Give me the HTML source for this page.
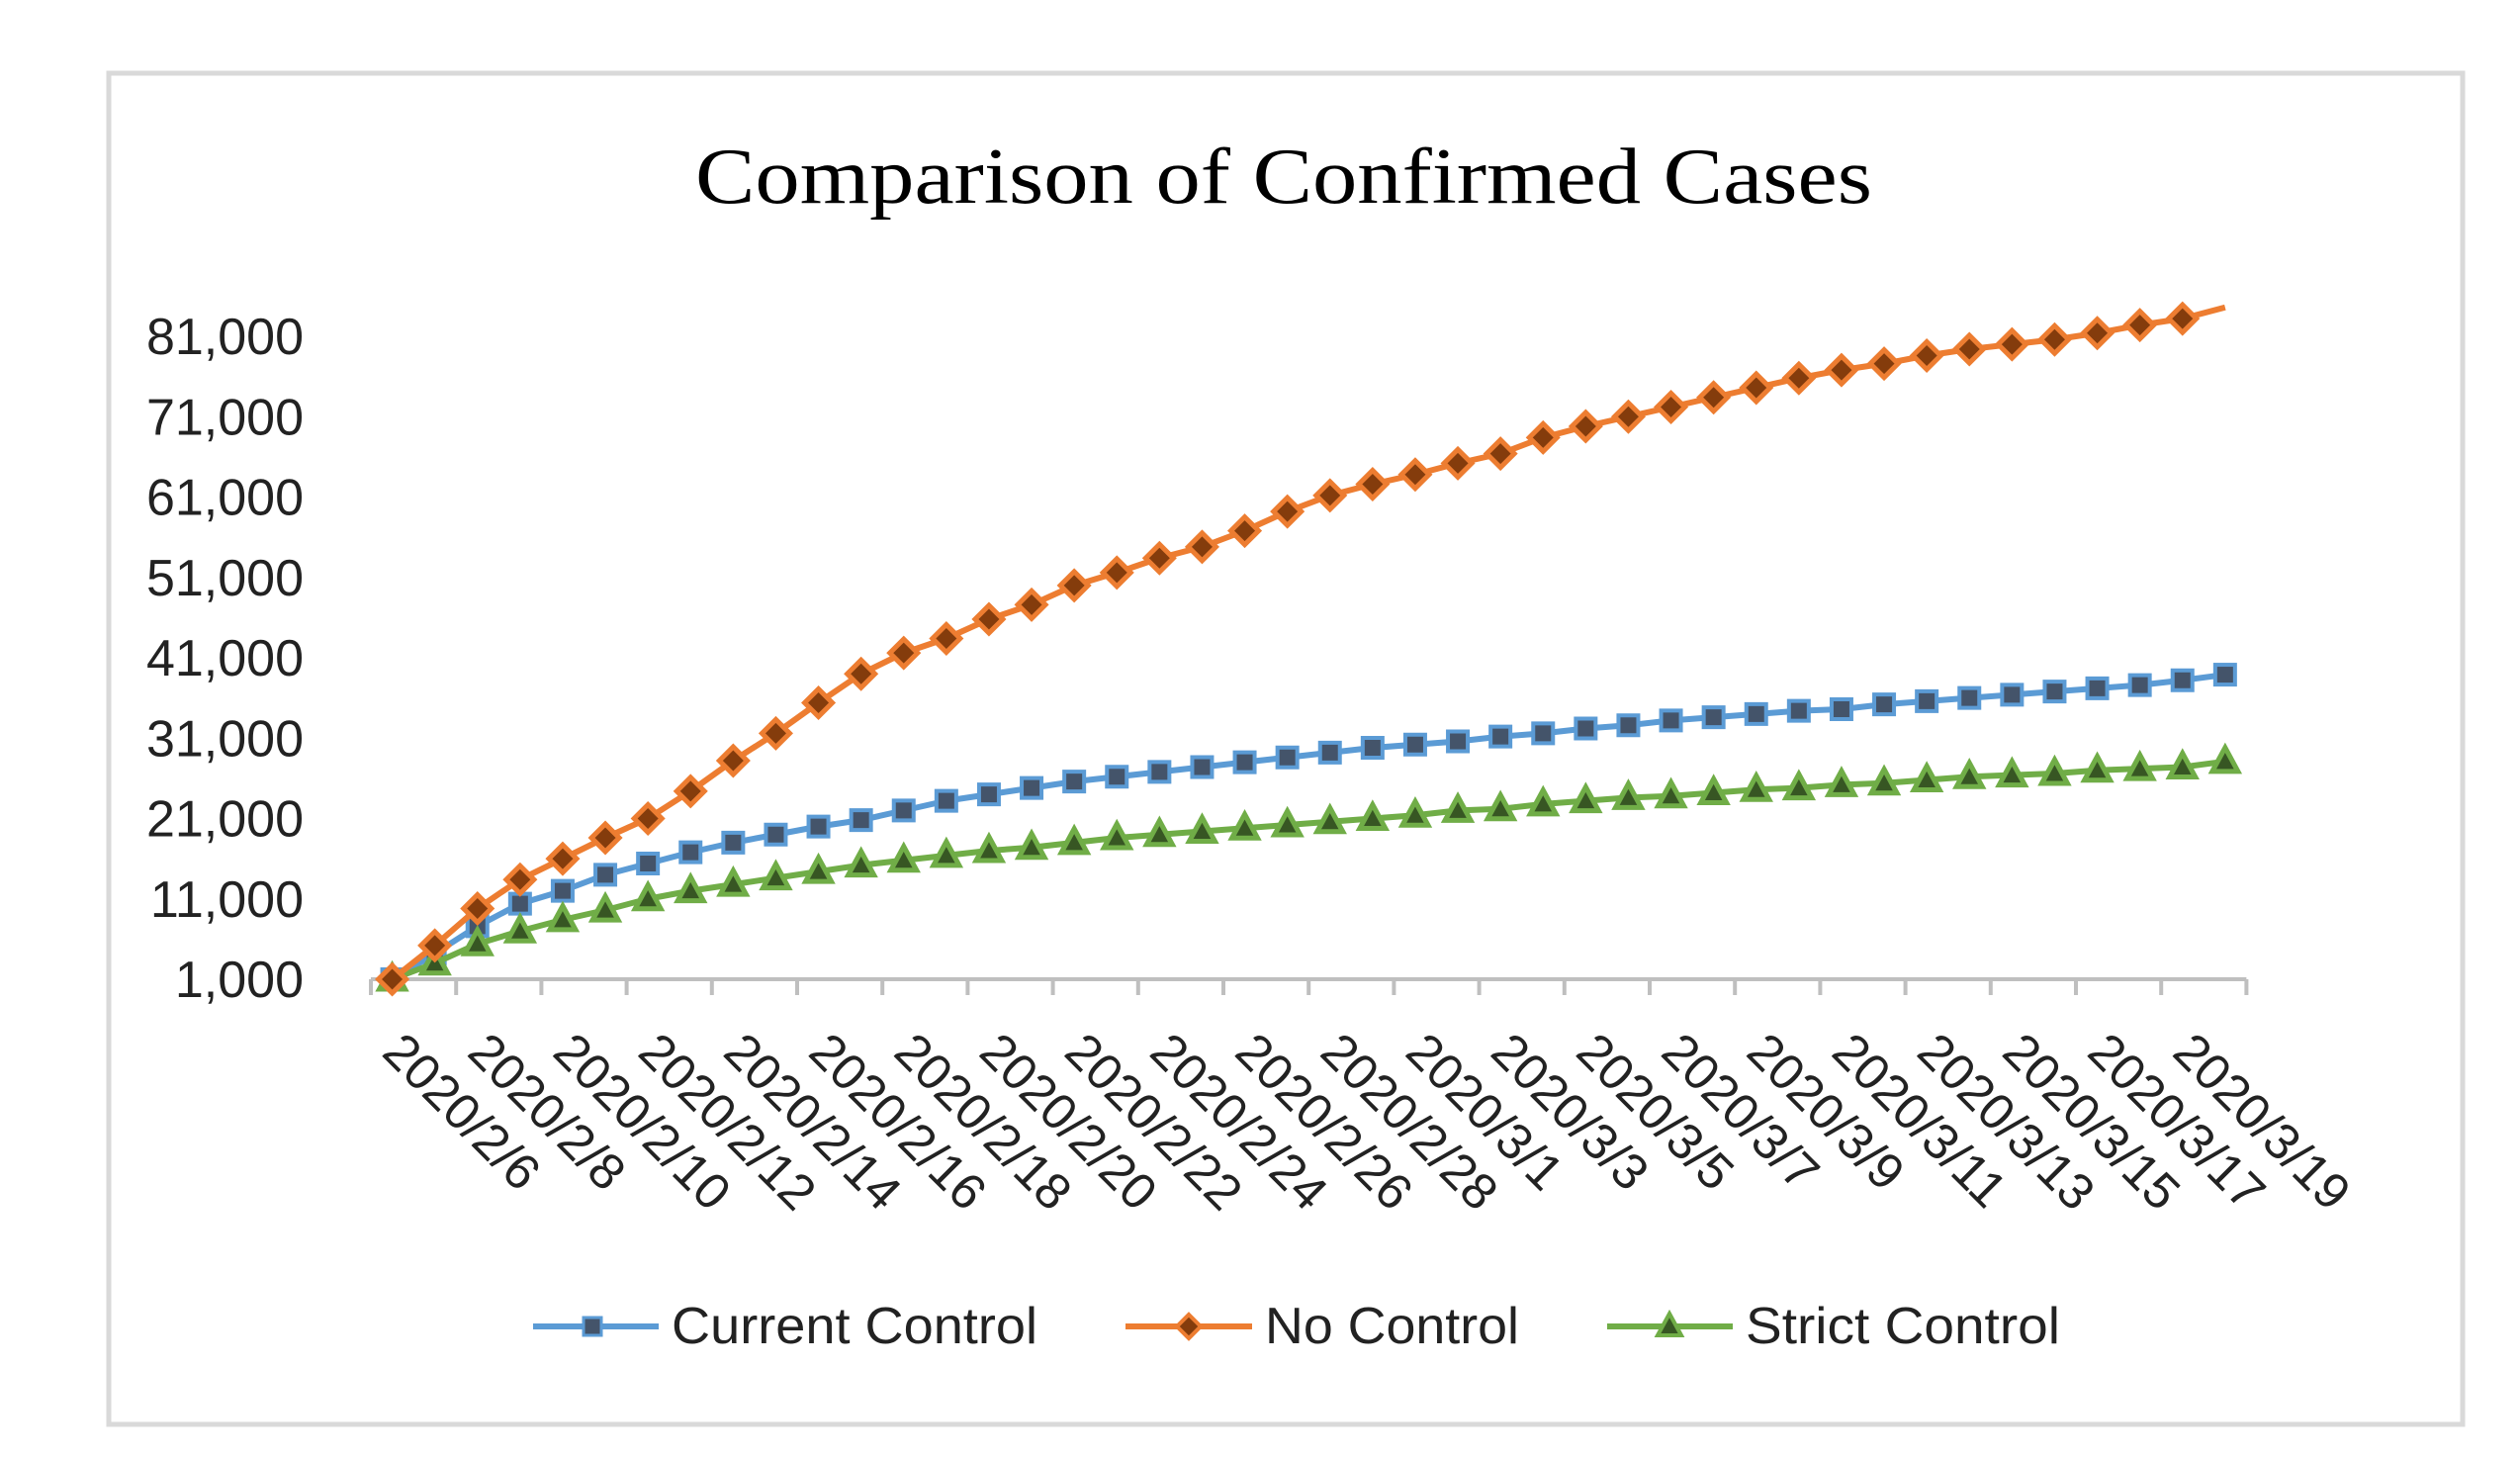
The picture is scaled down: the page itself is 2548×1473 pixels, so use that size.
<!DOCTYPE html>
<html><head><meta charset="utf-8"><style>
html,body{margin:0;padding:0;background:#fff;}
svg{display:block;}
</style></head><body>
<svg id="chart" width="2548" height="1473" viewBox="0 0 2548 1473" xmlns="http://www.w3.org/2000/svg">
<rect x="110" y="74" width="2380" height="1366" fill="#fff" stroke="#d9d9d9" stroke-width="5"/>
<text x="1298" y="205" text-anchor="middle" font-family="Liberation Serif, serif" font-size="80" textLength="1190" lengthAdjust="spacingAndGlyphs" fill="#000">Comparison  of Confirmed  Cases</text>
<g id="yaxis"></g>
<g id="xaxis"></g>
<g id="series"></g>
<g font-family="Liberation Sans, sans-serif" font-size="52" fill="#222">
  <g>
    <line x1="539" y1="1341" x2="666" y2="1341" stroke="#5b9bd5" stroke-width="6"/>
    <rect x="590" y="1332" width="18" height="18" fill="#44546a" stroke="#5b9bd5" stroke-width="3"/>
    <text x="679" y="1358" textLength="370" lengthAdjust="spacingAndGlyphs">Current Control</text>
  </g>
  <g>
    <line x1="1138" y1="1341" x2="1266" y2="1341" stroke="#ed7d31" stroke-width="6"/>
    <path d="M1202 1329 L1214 1341 L1202 1353 L1190 1341 Z" fill="#843c0c" stroke="#ed7d31" stroke-width="4"/>
    <text x="1279" y="1358" textLength="257" lengthAdjust="spacingAndGlyphs">No Control</text>
  </g>
  <g>
    <line x1="1625" y1="1341" x2="1752" y2="1341" stroke="#70ad47" stroke-width="6"/>
    <path d="M1688 1328 L1700 1350 L1676 1350 Z" fill="#375623" stroke="#70ad47" stroke-width="4"/>
    <text x="1765" y="1358" textLength="318" lengthAdjust="spacingAndGlyphs">Strict Control</text>
  </g>
</g>
</svg>
<script>
const categories = ["2020/2/6","2020/2/7","2020/2/8","2020/2/9","2020/2/10","2020/2/11","2020/2/12","2020/2/13","2020/2/14","2020/2/15","2020/2/16","2020/2/17","2020/2/18","2020/2/19","2020/2/20","2020/2/21","2020/2/22","2020/2/23","2020/2/24","2020/2/25","2020/2/26","2020/2/27","2020/2/28","2020/2/29","2020/3/1","2020/3/2","2020/3/3","2020/3/4","2020/3/5","2020/3/6","2020/3/7","2020/3/8","2020/3/9","2020/3/10","2020/3/11","2020/3/12","2020/3/13","2020/3/14","2020/3/15","2020/3/16","2020/3/17","2020/3/18","2020/3/19","2020/3/20"];
const currentControl = [1000,4200,7600,10400,12000,14000,15400,16800,18000,19000,20000,20800,22000,23200,24000,24800,25600,26200,26800,27400,28000,28600,29200,29800,30200,30600,31200,31600,32200,32600,33200,33600,34000,34400,34600,35200,35600,36000,36400,36800,37200,37600,38200,38900];
const noControl = [1000,5200,9800,13400,16000,18600,21000,24400,28200,31600,35400,39000,41600,43400,45800,47600,50000,51600,53400,54800,56800,59200,61200,62600,63800,65200,66400,68400,69800,71000,72200,73400,74600,75800,76800,77600,78600,79400,80000,80600,81400,82400,83200,84600];
const strictControl = [1000,3000,5400,7000,8400,9600,11000,12000,12800,13600,14400,15200,15800,16400,17000,17400,18000,18600,19000,19400,19800,20200,20600,21000,21400,22000,22200,22800,23200,23600,23800,24200,24600,24800,25200,25400,25800,26200,26400,26600,27000,27200,27400,28100];
const yTicks = [1000,11000,21000,31000,41000,51000,61000,71000,81000];
const yTickLabels = ["1,000","11,000","21,000","31,000","41,000","51,000","61,000","71,000","81,000"];

const NS = "http://www.w3.org/2000/svg";
const X0 = 375, CW = 43.1, Y0 = 990, PX = 81.25/10000;
function xPos(i){ return X0 + CW*(i+0.5); }
function yPos(v){ return Y0 - (v-1000)*PX; }
function mk(tag, attrs, parent){ const e=document.createElementNS(NS,tag); for(const k in attrs) e.setAttribute(k,attrs[k]); parent.appendChild(e); return e; }

const yaxis = document.getElementById('yaxis');
yTicks.forEach((v,i)=>{
  const t = mk('text',{x:307,y:yPos(v)+18,'text-anchor':'end','font-family':'Liberation Sans, sans-serif','font-size':52,fill:'#222'},yaxis);
  
  
  t.textContent = yTickLabels[i];
});

const xaxis = document.getElementById('xaxis');
const axisEnd = X0 + CW*categories.length;
const al = mk('line',{x1:X0,y1:Y0,x2:axisEnd,y2:Y0,stroke:'#bfbfbf','stroke-width':4},xaxis);


for(let i=0;i<=categories.length;i+=2){
  const tk = mk('line',{x1:X0+CW*i,y1:Y0,x2:X0+CW*i,y2:Y0+16,stroke:'#bfbfbf','stroke-width':4},xaxis);
  
  
}
categories.forEach((c,i)=>{
  if(i%2) return;
  const lx = xPos(i) - 12, ly = 1066;
  const t = mk('text',{x:lx,y:ly,transform:`rotate(45 ${lx} ${ly})`,'font-family':'Liberation Sans, sans-serif','font-size':51,fill:'#222'},xaxis);
  
  
  t.textContent = c;
});

const series = document.getElementById('series');
function drawSeries(vals, color, fill, shape, name, skipLast){
  const g = mk('g',{},series);
  
  
  const pts = vals.map((v,i)=>xPos(i)+','+yPos(v)).join(' ');
  const pl = mk('polyline',{points:pts,fill:'none',stroke:color,'stroke-width':6,'stroke-linejoin':'round'},g);
  
  
  vals.forEach((v,i)=>{
    if(skipLast && i===vals.length-1) return;
    const x=xPos(i), y=yPos(v); let m;
    if(shape==='square') m = mk('rect',{x:x-10,y:y-10,width:20,height:20,fill:fill,stroke:color,'stroke-width':4},g);
    else if(shape==='diamond') m = mk('path',{d:`M${x} ${y-14}L${x+14} ${y}L${x} ${y+14}L${x-14} ${y}Z`,fill:fill,stroke:color,'stroke-width':5},g);
    else m = mk('path',{d:`M${x} ${y-14}L${x+13} ${y+10}L${x-13} ${y+10}Z`,fill:fill,stroke:color,'stroke-width':5},g);
    
    
  });
}
drawSeries(currentControl,'#5b9bd5','#44546a','square','series-current-control',false);
drawSeries(strictControl,'#70ad47','#375623','triangle','series-strict-control',false);
drawSeries(noControl,'#ed7d31','#843c0c','diamond','series-no-control',true);
</script>
</body></html>
